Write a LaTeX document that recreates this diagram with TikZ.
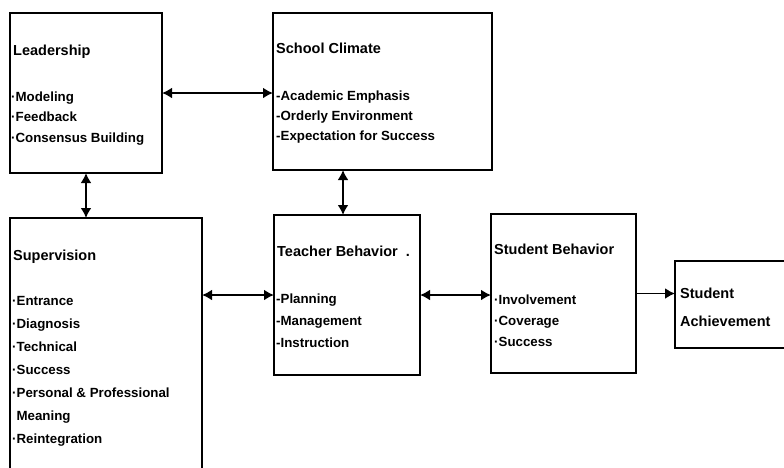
\documentclass[tikz,border=0pt]{standalone}
\usepackage{fontspec}
\setmainfont{Liberation Sans}
\usetikzlibrary{arrows.meta}
\begin{document}
\begin{tikzpicture}[x=1pt,y=-1pt,>={Latex[length=10pt,width=11pt]},
  box/.style={draw,line width=2.8pt,inner sep=0pt,outer sep=0pt,anchor=north west},
  head/.style={anchor=base west,inner sep=0pt,align=left,font=\fontsize{14.5}{#1}\selectfont\bfseries},
  head/.default=27,
  items/.style={anchor=base west,inner sep=0pt,align=left,font=\fontsize{13.3}{#1}\selectfont\bfseries},
  link/.style={line width=2.6pt}]
 \clip (0,0) rectangle (784,467);
 % boxes
 \node[box,minimum width=152pt,minimum height=160pt] (lead) at (10,13) {};
 \node[box,minimum width=219pt,minimum height=157pt] (clim) at (273,13) {};
 \node[box,minimum width=192pt,minimum height=290pt] (sup) at (10,218) {};
 \node[box,minimum width=146pt,minimum height=160pt] (teach) at (274,215) {};
 \node[box,minimum width=145pt,minimum height=159pt] (stud) at (491,214) {};
 \node[box,minimum width=150pt,minimum height=87pt] (ach) at (675,261) {};
 % connections
 \coordinate (teach-top) at ([xshift=-4pt]teach.north);
 \draw[link,<->] (lead.east) -- (clim.west |- lead.east);
 \draw[link,<->] (lead.south) -- (sup.north -| lead.south);
 \draw[link,<->] (teach-top) -- (clim.south -| teach-top);
 \draw[link,<->] (teach.west) -- (sup.east |- teach.west);
 \draw[link,<->] (teach.east) -- (stud.west |- teach.east);
 \draw[line width=1.8pt,->] (stud.east) -- (ach.west |- stud.east);
 % texts (multi-line nodes sit on their last line)
 \node[head] (lead-t) at (13,55) {Leadership};
 \node[items=20.5] (lead-i) at (11,142) {·Modeling\\·Feedback\\·Consensus Building};
 \node[head] (clim-t) at (276,53) {School Climate};
 \node[items=20] (clim-i) at (276,140) {-Academic Emphasis\\-Orderly Environment\\-Expectation for Success};
 \node[head] (sup-t) at (13,260) {Supervision};
 \node[items=23] (sup-i) at (12,443) {·Entrance\\·Diagnosis\\·Technical\\·Success\\·Personal \& Professional\\\phantom{·}Meaning\\·Reintegration};
 \node[head] (teach-t) at (277,256) {Teacher Behavior\ \ .};
 \node[items=22] (teach-i) at (276,347) {-Planning\\-Management\\-Instruction};
 \node[head] (stud-t) at (494,254) {Student Behavior};
 \node[items=21] (stud-i) at (494,346) {·Involvement\\·Coverage\\·Success};
 \node[head=28] (ach-t) at (680,326) {Student\\Achievement};
\end{tikzpicture}
\end{document}
